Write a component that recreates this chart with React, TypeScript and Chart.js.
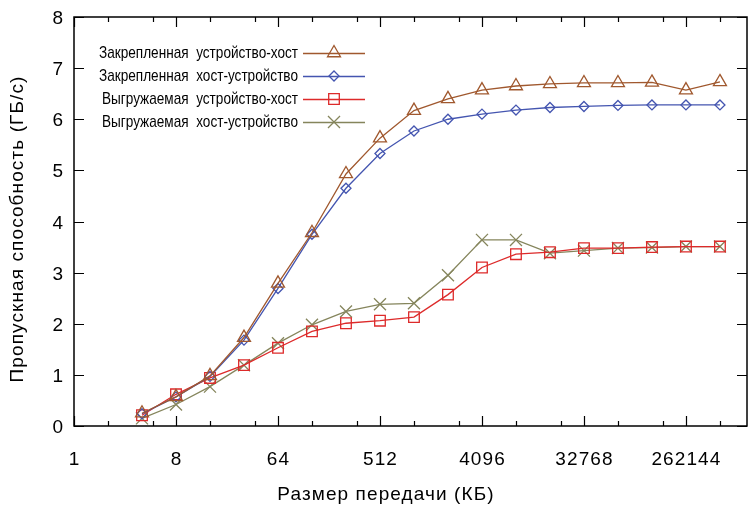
import React, { useEffect, useRef } from 'react';
import { Chart, registerables } from 'chart.js';
import { drawPoint } from 'chart.js/helpers';

Chart.register(...registerables);

const transferSizesKB = [4, 8, 16, 32, 64, 128, 256, 512, 1024, 2048, 4096, 8192, 16384, 32768, 65536, 131072, 262144, 524288];

const pinnedDeviceToHost = [0.25, 0.57, 0.98, 1.73, 2.79, 3.78, 4.93, 5.63, 6.17, 6.40, 6.57, 6.65, 6.69, 6.71, 6.71, 6.72, 6.57, 6.73];
const pinnedHostToDevice = [0.24, 0.57, 0.97, 1.68, 2.69, 3.75, 4.65, 5.33, 5.77, 6.00, 6.10, 6.18, 6.23, 6.25, 6.27, 6.28, 6.28, 6.28];
const pageableDeviceToHost = [0.21, 0.62, 0.94, 1.19, 1.53, 1.85, 2.01, 2.06, 2.13, 2.57, 3.10, 3.36, 3.40, 3.48, 3.48, 3.50, 3.51, 3.51];
const pageableHostToDevice = [0.15, 0.42, 0.77, 1.19, 1.62, 1.98, 2.24, 2.38, 2.40, 2.95, 3.64, 3.64, 3.38, 3.43, 3.48, 3.49, 3.51, 3.51];

const seriesLabels = [
  'Закрепленная устройство-хост',
  'Закрепленная хост-устройство',
  'Выгружаемая устройство-хост',
  'Выгружаемая хост-устройство',
];

const xMajorTicks = [1, 8, 64, 512, 4096, 32768, 262144];
const xMinorTicks = [2, 5, 16, 40, 128, 320, 1024, 2560, 8192, 20480, 65536, 163840, 524288];
const yTicks = [0, 1, 2, 3, 4, 5, 6, 7, 8];

const xTitle = 'Размер передачи (КБ)';
const yTitle = 'Пропускная способность (ГБ/с)';

const FONT = '"Liberation Sans", Arial, Helvetica, sans-serif';

const setSpacing = (ctx: any, v: string) => {
  if ('letterSpacing' in ctx) ctx.letterSpacing = v;
};

const framePlugin = {
  id: 'frameTicks',
  afterDatasetsDraw(chart: any) {
    const { ctx, chartArea: a, scales } = chart;
    const x = scales.x;
    const y = scales.y;
    ctx.save();
    ctx.strokeStyle = '#000';
    ctx.lineWidth = 1.2;
    ctx.beginPath();
    xMajorTicks.forEach((v) => {
      const px = Math.round(x.getPixelForValue(v)) + 0.5;
      ctx.moveTo(px, a.bottom); ctx.lineTo(px, a.bottom - 10);
      ctx.moveTo(px, a.top); ctx.lineTo(px, a.top + 10);
    });
    xMinorTicks.forEach((v) => {
      const px = Math.round(x.getPixelForValue(v)) + 0.5;
      ctx.moveTo(px, a.bottom); ctx.lineTo(px, a.bottom - 5);
      ctx.moveTo(px, a.top); ctx.lineTo(px, a.top + 5);
    });
    yTicks.forEach((v) => {
      const py = Math.round(y.getPixelForValue(v)) + 0.5;
      ctx.moveTo(a.left, py); ctx.lineTo(a.left + 10, py);
      ctx.moveTo(a.right, py); ctx.lineTo(a.right - 10, py);
    });
    ctx.stroke();
    ctx.lineWidth = 1.5;
    ctx.strokeRect(a.left, a.top, a.right - a.left, a.bottom - a.top);

    ctx.fillStyle = '#000';
    ctx.font = `19px ${FONT}`;
    ctx.textBaseline = 'alphabetic';

    // x tick labels
    ctx.textAlign = 'center';
    setSpacing(ctx, '1.1px');
    xMajorTicks.forEach((v) => {
      ctx.fillText(String(v), x.getPixelForValue(v) + 0.5, 465);
    });

    // y tick labels
    setSpacing(ctx, '0px');
    ctx.textAlign = 'right';
    yTicks.forEach((v) => {
      ctx.fillText(String(v), 63, y.getPixelForValue(v) + 7);
    });

    // x axis title
    setSpacing(ctx, '1.1px');
    ctx.textAlign = 'center';
    ctx.fillText(xTitle, 386, 500);

    // y axis title
    ctx.save();
    ctx.translate(23, 229);
    ctx.rotate(-Math.PI / 2);
    ctx.textAlign = 'center';
    ctx.fillText(yTitle, 0, 0);
    ctx.restore();
    setSpacing(ctx, '0px');

    // legend (gnuplot style)
    chart.data.datasets.forEach((ds: any, i: number) => {
      const rowY = 53 + i * 23;
      ctx.save();
      ctx.translate(298, rowY);
      ctx.scale(0.8, 1);
      ctx.fillStyle = '#000';
      ctx.font = `17px ${FONT}`;
      ctx.textAlign = 'right';
      ctx.textBaseline = 'middle';
      ctx.fillText(ds.label.replace(' ', '  '), 0, 0);
      ctx.restore();
      ctx.save();
      ctx.strokeStyle = ds.borderColor;
      ctx.lineWidth = ds.borderWidth;
      ctx.beginPath();
      ctx.moveTo(303, rowY + 0.5);
      ctx.lineTo(365, rowY + 0.5);
      ctx.stroke();
      ctx.fillStyle = 'rgba(0,0,0,0)';
      ctx.lineWidth = ds.pointBorderWidth;
      drawPoint(ctx, { pointStyle: ds.pointStyle, radius: ds.pointRadius, rotation: 0, borderWidth: ds.pointBorderWidth }, 334, rowY);
      ctx.restore();
    });
    ctx.restore();
  },
};

const makeSeries = (label: string, values: number[], color: string, style: string, radius: number) => ({
  label,
  data: transferSizesKB.map((s, i) => ({ x: s, y: values[i] })),
  borderColor: color,
  backgroundColor: 'rgba(0,0,0,0)',
  borderWidth: 1.3,
  pointStyle: style,
  pointRadius: radius,
  pointBorderWidth: 1.3,
  pointBorderColor: color,
  pointBackgroundColor: 'rgba(0,0,0,0)',
  tension: 0,
  fill: false,
  clip: false,
});

export default function App() {
  const ref = useRef<HTMLCanvasElement | null>(null);
  useEffect(() => {
    document.body.style.margin = '0';
    if (!ref.current) return;
    const chart = new Chart(ref.current, {
      type: 'line',
      data: {
        datasets: [
          makeSeries(seriesLabels[0], pinnedDeviceToHost, '#a0582e', 'triangle', 7.5),
          makeSeries(seriesLabels[1], pinnedHostToDevice, '#4455b0', 'rectRot', 5),
          makeSeries(seriesLabels[2], pageableDeviceToHost, '#dd2a2a', 'rect', 7.5),
          makeSeries(seriesLabels[3], pageableHostToDevice, '#85855c', 'crossRot', 8.5),
        ] as any,
      },
      options: {
        animation: false,
        responsive: false,
        events: [],
        layout: { autoPadding: false, padding: { top: 17, right: 1, left: 0, bottom: 0 } },
        plugins: { legend: { display: false }, tooltip: { enabled: false } },
        scales: {
          x: {
            type: 'logarithmic',
            min: 1,
            max: 910000,
            grid: { display: false },
            border: { display: false },
            ticks: { display: false },
            afterFit: (s: any) => { s.height = 82; },
          },
          y: {
            type: 'linear',
            min: 0,
            max: 8,
            grid: { display: false },
            border: { display: false },
            ticks: { display: false },
            afterFit: (s: any) => { s.width = 74; },
          },
        },
      } as any,
      plugins: [framePlugin],
    });
    return () => chart.destroy();
  }, []);
  return <canvas ref={ref} width={748} height={508} style={{ display: 'block' }} />;
}
